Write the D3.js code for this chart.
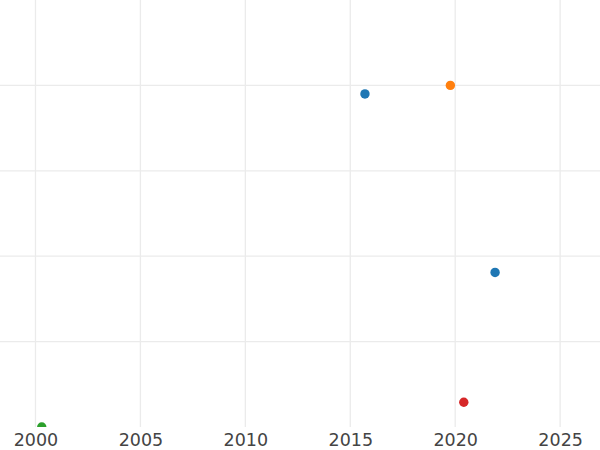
<!DOCTYPE html>
<html>
<head>
<meta charset="utf-8">
<script src="https://cdn.jsdelivr.net/npm/d3@7"></script>
<style>
html,body{margin:0;padding:0;background:#fff;}
svg{display:block;}
</style>
</head>
<body>
<svg id="chart" width="600" height="450"></svg>
<script>
const years = [2015.7, 2019.77, 2021.9, 2020.41, 2000.3];
const values = [3.9, 4.0, 1.81, 0.29, 0.0];
const colors = ["#1f77b4", "#ff7f0e", "#1f77b4", "#d62728", "#2ca02c"];
const xTicks = [2000, 2005, 2010, 2015, 2020, 2025];
const yTicks = [1, 2, 3, 4];

const W = 600, H = 450;
const plotBottom = 427;
const svg = d3.select("#chart");

const x = d3.scaleLinear().domain([1998.31, 2026.9]).range([0, W]);
const y = d3.scaleLinear().domain([0, 5]).range([plotBottom, 0]);

svg.append("defs").append("clipPath").attr("id", "clip")
  .append("rect").attr("x", 0).attr("y", 0).attr("width", W).attr("height", plotBottom);

const grid = svg.append("g");
grid.selectAll("line.v").data(xTicks).join("line")
  .attr("x1", d => x(d)).attr("x2", d => x(d))
  .attr("y1", 0).attr("y2", plotBottom)
  .attr("stroke", "#ebebeb").attr("stroke-width", 1.3);
grid.selectAll("line.h").data(yTicks).join("line")
  .attr("x1", 0).attr("x2", W)
  .attr("y1", d => y(d)).attr("y2", d => y(d))
  .attr("stroke", "#ebebeb").attr("stroke-width", 1.3);

const xAxis = d3.axisBottom(x).tickValues(xTicks).tickFormat(d3.format("d")).tickSize(0).tickPadding(7);
const ax = svg.append("g").attr("transform", `translate(0,${plotBottom})`).call(xAxis);
ax.select(".domain").remove();
ax.selectAll("text").attr("fill", "#444").style("font-family", "DejaVu Sans, sans-serif").style("font-size", "17.5px");

const data = years.map((d, i) => ({x: d, y: values[i], c: colors[i]}));
svg.append("g").attr("clip-path", "url(#clip)")
  .selectAll("circle").data(data).join("circle")
  .attr("cx", d => x(d.x)).attr("cy", d => y(d.y)).attr("r", 4.7)
  .attr("fill", d => d.c);
</script>
</body>
</html>
